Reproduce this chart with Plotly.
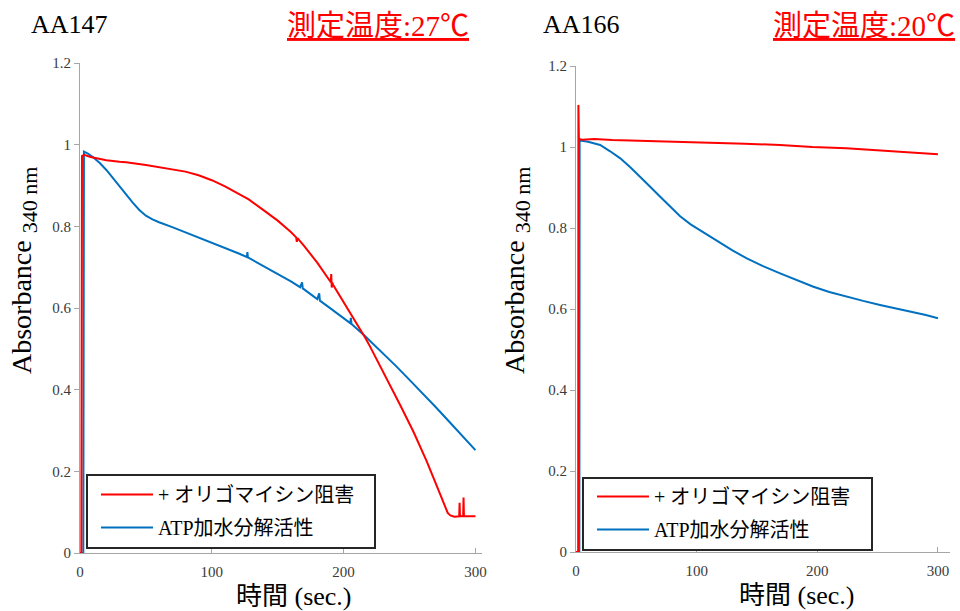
import plotly.graph_objects as go

# ---------------- AA147 (27 ℃) ----------------
aa147_olig_t = [0, 1.0, 1.5, 3, 8, 13, 20, 30, 35, 50, 60, 70, 80, 90, 100, 110, 120, 128,
                140, 150, 160, 164, 164.5, 165, 170, 180, 190.3, 190.6, 191, 191.4, 192,
                200, 210, 216.4, 220, 233, 243, 253, 263, 273, 277, 279, 281, 284, 287.7,
                288, 288.3, 290, 290.7, 291, 291.3, 295, 300]
aa147_olig_a = [0, 0, 0.972, 0.975, 0.970, 0.966, 0.962, 0.958, 0.957, 0.950, 0.945, 0.940,
                0.934, 0.925, 0.913, 0.898, 0.881, 0.866, 0.838, 0.814, 0.786, 0.773, 0.762,
                0.771, 0.752, 0.711, 0.663, 0.683, 0.650, 0.662, 0.657, 0.615, 0.562, 0.527,
                0.506, 0.426, 0.362, 0.297, 0.225, 0.146, 0.112, 0.098, 0.092, 0.089, 0.090,
                0.123, 0.090, 0.090, 0.090, 0.136, 0.090, 0.090, 0.090]

aa147_atp_t = [0, 2.5, 3, 6, 10, 15, 20, 25, 30, 35, 40, 45, 50, 55, 60, 70, 78, 90, 100,
               110, 120, 126.6, 127, 127.4, 140, 150, 160, 167, 168.5, 169, 180, 181.5, 182,
               190, 205, 205.5, 206, 216, 226.5, 240, 250, 260, 270, 280, 290, 300]
aa147_atp_a = [0, 0, 0.983, 0.978, 0.969, 0.955, 0.938, 0.918, 0.897, 0.877, 0.858, 0.840,
               0.826, 0.817, 0.810, 0.798, 0.788, 0.773, 0.760, 0.747, 0.734, 0.725, 0.737,
               0.724, 0.702, 0.684, 0.665, 0.651, 0.663, 0.648, 0.622, 0.636, 0.618, 0.599,
               0.563, 0.576, 0.561, 0.532, 0.500, 0.457, 0.424, 0.391, 0.357, 0.322, 0.287,
               0.252]

# ---------------- AA166 (20 ℃) ----------------
aa166_olig_t = [0, 1.8, 2.0, 2.4, 5, 10, 15, 30, 59, 86, 114, 140, 169, 196, 224, 252,
                279.5, 300]
aa166_olig_a = [0, 0, 1.104, 1.020, 1.018, 1.019, 1.020, 1.017, 1.015, 1.013, 1.011,
                1.008, 1.005, 1.000, 0.997, 0.992, 0.986, 0.982]

aa166_atp_t = [0, 2.8, 3.0, 3.6, 10, 20, 28, 36.7, 45, 53.2, 61.5, 69.8, 78, 86.3, 95,
               102.9, 110, 119.5, 130, 141.6, 155, 169.2, 183, 196.8, 210, 224.4, 238,
               252, 266, 279.5, 290, 300]
aa166_atp_a = [0, 0, 1.015, 1.016, 1.013, 1.005, 0.990, 0.972, 0.950, 0.927, 0.902,
               0.877, 0.852, 0.829, 0.809, 0.794, 0.780, 0.763, 0.744, 0.725, 0.706,
               0.688, 0.671, 0.655, 0.642, 0.630, 0.620, 0.610, 0.601, 0.593, 0.585, 0.577]

series_names = ["+ オリゴマイシン阻害", "ATP加水分解活性"]
panel_names = ["AA147", "AA166"]
panel_temps = ["測定温度:27℃", "測定温度:20℃"]
x_title = "時間 (sec.)"
y_title = "Absorbance <sub><span style='font-size:22px'>340 nm</span></sub>"
y_ticks = [0, 0.2, 0.4, 0.6, 0.8, 1.0, 1.2]
x_ticks = [0, 100, 200, 300]

RED = "#FF0000"
BLUE = "#0070C0"
AXIS = "#A6A6A6"
FONT = "Liberation Serif, Noto Sans CJK JP, serif"
W, H = 960, 611


def px_x(p):
    return p / W


def px_y(p):
    return (H - p) / H


fig = go.Figure()

# blue first so the red trace is drawn over it; legendrank puts red first in the key
for xs, ys, name, color, rank, ax, lg in [
    (aa147_atp_t, aa147_atp_a, series_names[1], BLUE, 2, ("x", "y"), "legend"),
    (aa147_olig_t, aa147_olig_a, series_names[0], RED, 1, ("x", "y"), "legend"),
    (aa166_atp_t, aa166_atp_a, series_names[1], BLUE, 2, ("x2", "y2"), "legend2"),
    (aa166_olig_t, aa166_olig_a, series_names[0], RED, 1, ("x2", "y2"), "legend2"),
]:
    fig.add_trace(go.Scatter(x=xs, y=ys, name=name, mode="lines",
                             line=dict(color=color, width=2), xaxis=ax[0], yaxis=ax[1],
                             legend=lg, legendrank=rank, legendgroup=lg + str(rank)))

xa = dict(showline=True, linecolor=AXIS, linewidth=1, ticks="inside", ticklen=5,
          tickcolor=AXIS, tickvals=x_ticks, showgrid=False, zeroline=False,
          tickfont=dict(family=FONT, size=15, color="#3A3A3A"), ticklabelstandoff=5,
          automargin=False, fixedrange=True)
ya = dict(showline=True, linecolor=AXIS, linewidth=1, ticks="outside", ticklen=5,
          tickcolor=AXIS, tickvals=y_ticks, range=[0, 1.2], showgrid=False,
          zeroline=False, tickfont=dict(family=FONT, size=15, color="#3A3A3A"),
          automargin=False, fixedrange=True)

legend_style = dict(xanchor="left", yanchor="top", bgcolor="rgba(0,0,0,0)",
                    borderwidth=0, font=dict(family=FONT, size=20, color="black"),
                    itemwidth=52, tracegroupgap=4, traceorder="grouped")

fig.update_layout(
    width=W, height=H, margin=dict(l=0, r=0, t=0, b=0, autoexpand=False),
    paper_bgcolor="white", plot_bgcolor="white", showlegend=True,
    xaxis=dict(xa, domain=[px_x(80), px_x(482)], range=[0, 305], anchor="y"),
    yaxis=dict(ya, domain=[px_y(553), px_y(63)], anchor="x"),
    xaxis2=dict(xa, domain=[px_x(576), px_x(950)], range=[0, 310], anchor="y2"),
    yaxis2=dict(ya, domain=[px_y(552), px_y(66)], anchor="x2"),
    legend=dict(legend_style, x=px_x(96), y=px_y(475)),
    legend2=dict(legend_style, x=px_x(592), y=px_y(477)),
)

# frames around the two keys
for x0, y0, x1, y1 in [(87, 475, 375, 548), (583, 478, 872, 550)]:
    fig.add_shape(type="rect", xref="paper", yref="paper",
                  x0=px_x(x0), x1=px_x(x1), y0=px_y(y1), y1=px_y(y0),
                  line=dict(color="#262626", width=2), fillcolor="white", layer="above")

annotations = [
    dict(text=panel_names[0], x=px_x(69), y=px_y(24)),
    dict(text=panel_names[1], x=px_x(581), y=px_y(24)),
]
for a in annotations:
    a.update(font=dict(family=FONT, size=26, color="black"))
temps = [
    dict(text="<u>" + panel_temps[0] + "</u>", x=px_x(378), y=px_y(26)),
    dict(text="<u>" + panel_temps[1] + "</u>", x=px_x(864), y=px_y(26)),
]
for a in temps:
    a.update(font=dict(family=FONT, size=29, color=RED))
x_titles = [
    dict(text=x_title, x=px_x(294), y=px_y(596)),
    dict(text=x_title, x=px_x(797), y=px_y(595)),
]
for a in x_titles:
    a.update(font=dict(family=FONT, size=26, color="black"))
y_titles = [
    dict(text=y_title, x=px_x(24), y=px_y(271), textangle=-90),
    dict(text=y_title, x=px_x(517), y=px_y(271), textangle=-90),
]
for a in y_titles:
    a.update(font=dict(family=FONT, size=28, color="black"))

all_ann = annotations + temps + x_titles + y_titles
for a in all_ann:
    a.update(xref="paper", yref="paper", showarrow=False, xanchor="center",
             yanchor="middle")

fig.update_layout(annotations=all_ann)

fig.write_html("out.html")
